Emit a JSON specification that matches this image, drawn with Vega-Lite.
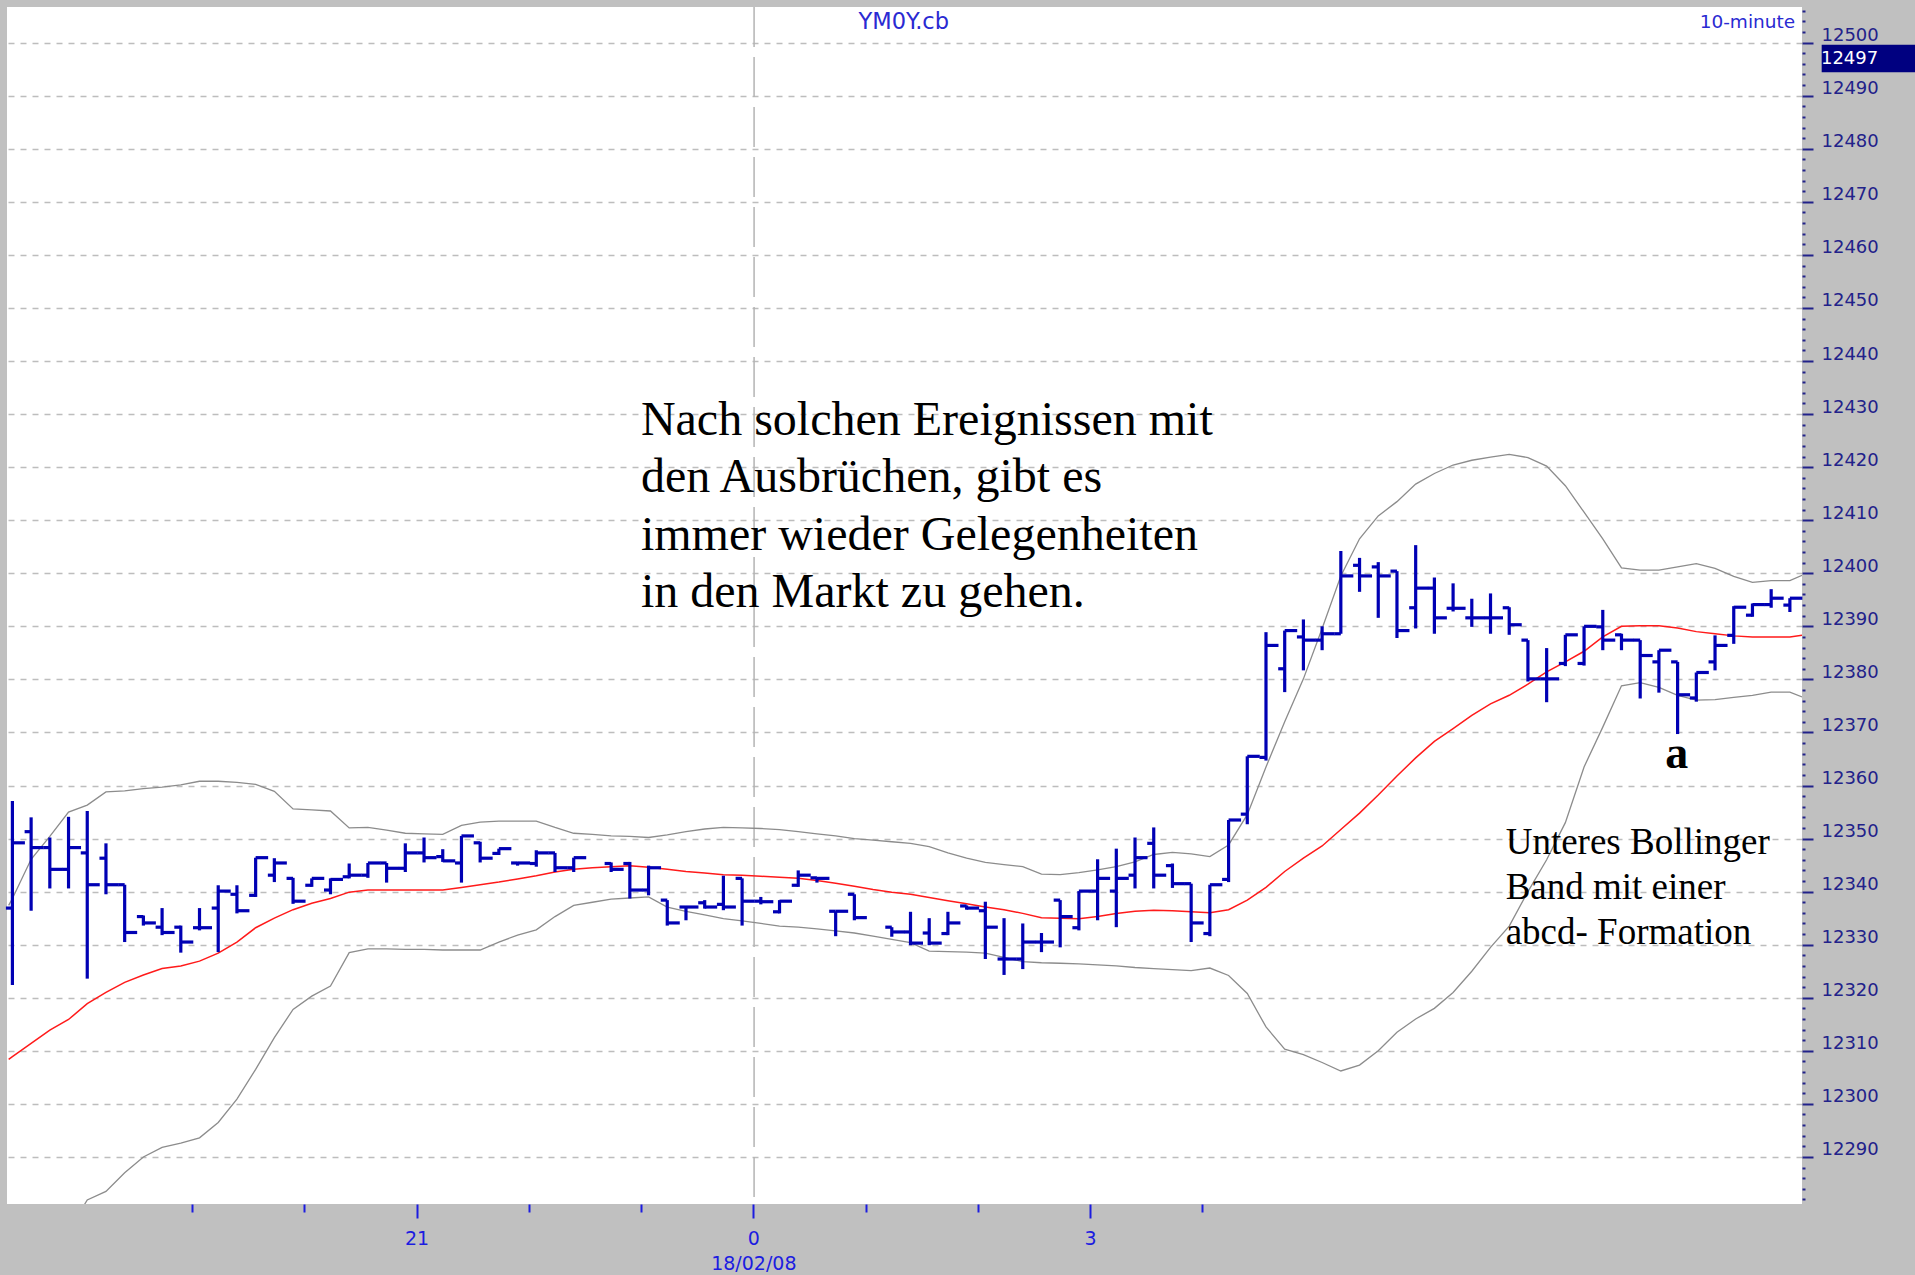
{
  "$schema": "https://vega.github.io/schema/vega-lite/v6.json",
  "width": 1795,
  "height": 1197,
  "autosize": {"type": "none"},
  "padding": {"left": 7, "top": 7, "right": 113, "bottom": 71},
  "background": "#c0c0c0",
  "config": {"view": {"fill": "white", "stroke": null}},
  "resolve": {"axis": {"x": "independent", "y": "independent"}},
  "datasets": {
    "bars": [
      {"i":1,"o":12336.9,"h":12357.1,"l":12322.4,"c":12349.2},
      {"i":2,"o":12351.3,"h":12354.0,"l":12336.4,"c":12348.3},
      {"i":3,"o":12348.3,"h":12350.2,"l":12340.6,"c":12344.2},
      {"i":4,"o":12344.2,"h":12354.1,"l":12340.6,"c":12348.3},
      {"i":5,"o":12347.3,"h":12355.2,"l":12323.6,"c":12341.3},
      {"i":6,"o":12346.3,"h":12349.1,"l":12339.5,"c":12341.3},
      {"i":7,"o":12341.3,"h":12341.3,"l":12330.5,"c":12332.3},
      {"i":8,"o":12335.3,"h":12335.5,"l":12333.6,"c":12334.1},
      {"i":9,"o":12333.3,"h":12336.9,"l":12331.8,"c":12332.3},
      {"i":10,"o":12333.3,"h":12333.6,"l":12328.5,"c":12330.5},
      {"i":11,"o":12333.2,"h":12336.9,"l":12332.7,"c":12333.2},
      {"i":12,"o":12336.9,"h":12341.2,"l":12328.6,"c":12340.1},
      {"i":13,"o":12339.5,"h":12341.2,"l":12335.9,"c":12336.4},
      {"i":14,"o":12339.3,"h":12346.4,"l":12339.0,"c":12346.4},
      {"i":15,"o":12343.1,"h":12346.3,"l":12341.8,"c":12345.4},
      {"i":16,"o":12342.5,"h":12342.6,"l":12337.7,"c":12338.2},
      {"i":17,"o":12341.2,"h":12342.5,"l":12340.9,"c":12342.5},
      {"i":18,"o":12340.3,"h":12342.5,"l":12339.5,"c":12342.3},
      {"i":19,"o":12342.8,"h":12345.3,"l":12342.5,"c":12343.1},
      {"i":20,"o":12343.1,"h":12345.4,"l":12342.6,"c":12345.4},
      {"i":21,"o":12345.4,"h":12345.4,"l":12341.7,"c":12344.4},
      {"i":22,"o":12344.4,"h":12349.1,"l":12343.7,"c":12347.3},
      {"i":23,"o":12347.3,"h":12350.2,"l":12345.5,"c":12346.4},
      {"i":24,"o":12346.6,"h":12348.0,"l":12345.6,"c":12345.8},
      {"i":25,"o":12345.4,"h":12350.5,"l":12341.7,"c":12350.5},
      {"i":26,"o":12349.2,"h":12349.4,"l":12345.5,"c":12346.3},
      {"i":27,"o":12347.2,"h":12348.1,"l":12346.9,"c":12348.1},
      {"i":28,"o":12345.4,"h":12345.6,"l":12344.9,"c":12345.4},
      {"i":29,"o":12345.3,"h":12347.8,"l":12344.7,"c":12347.3},
      {"i":30,"o":12347.3,"h":12347.3,"l":12343.7,"c":12344.5},
      {"i":31,"o":12344.5,"h":12346.4,"l":12343.7,"c":12346.4},
      {"i":33,"o":12345.3,"h":12345.5,"l":12343.7,"c":12344.2},
      {"i":34,"o":12345.3,"h":12345.6,"l":12338.7,"c":12340.3},
      {"i":35,"o":12340.3,"h":12344.9,"l":12339.3,"c":12344.5},
      {"i":36,"o":12338.4,"h":12338.4,"l":12333.6,"c":12334.1},
      {"i":37,"o":12337.1,"h":12337.1,"l":12334.6,"c":12337.1},
      {"i":38,"o":12337.9,"h":12338.4,"l":12336.8,"c":12337.1},
      {"i":39,"o":12337.6,"h":12343.0,"l":12336.5,"c":12337.1},
      {"i":40,"o":12342.5,"h":12342.5,"l":12333.6,"c":12338.2},
      {"i":41,"o":12338.2,"h":12339.0,"l":12337.6,"c":12338.1},
      {"i":42,"o":12336.2,"h":12338.4,"l":12335.9,"c":12338.2},
      {"i":43,"o":12341.2,"h":12344.0,"l":12340.9,"c":12343.1},
      {"i":44,"o":12342.6,"h":12342.6,"l":12341.7,"c":12342.5},
      {"i":45,"o":12336.3,"h":12336.3,"l":12331.6,"c":12336.3},
      {"i":46,"o":12339.5,"h":12339.5,"l":12334.6,"c":12335.1},
      {"i":48,"o":12333.3,"h":12333.3,"l":12331.5,"c":12332.4},
      {"i":49,"o":12332.4,"h":12336.2,"l":12329.9,"c":12330.3},
      {"i":50,"o":12332.2,"h":12335.0,"l":12329.9,"c":12330.3},
      {"i":51,"o":12332.1,"h":12336.2,"l":12331.8,"c":12334.1},
      {"i":52,"o":12337.3,"h":12337.4,"l":12336.6,"c":12336.9},
      {"i":53,"o":12336.4,"h":12338.1,"l":12327.3,"c":12333.3},
      {"i":54,"o":12327.3,"h":12335.0,"l":12324.3,"c":12327.3},
      {"i":55,"o":12327.3,"h":12334.0,"l":12325.4,"c":12330.5},
      {"i":56,"o":12330.5,"h":12332.2,"l":12328.6,"c":12330.5},
      {"i":57,"o":12338.4,"h":12338.4,"l":12329.5,"c":12335.3},
      {"i":58,"o":12333.2,"h":12340.1,"l":12332.7,"c":12340.1},
      {"i":59,"o":12340.1,"h":12346.1,"l":12334.6,"c":12342.5},
      {"i":60,"o":12340.1,"h":12348.1,"l":12333.3,"c":12342.5},
      {"i":61,"o":12343.1,"h":12350.2,"l":12340.6,"c":12346.4},
      {"i":62,"o":12349.1,"h":12352.1,"l":12340.6,"c":12343.1},
      {"i":63,"o":12344.9,"h":12345.3,"l":12340.7,"c":12341.5},
      {"i":64,"o":12341.5,"h":12341.5,"l":12330.5,"c":12334.1},
      {"i":65,"o":12332.1,"h":12341.3,"l":12331.6,"c":12341.3},
      {"i":66,"o":12342.3,"h":12353.5,"l":12341.8,"c":12353.5},
      {"i":67,"o":12354.6,"h":12365.5,"l":12352.7,"c":12365.5},
      {"i":68,"o":12365.3,"h":12388.9,"l":12364.7,"c":12386.4},
      {"i":69,"o":12382.0,"h":12389.2,"l":12377.6,"c":12389.2},
      {"i":70,"o":12388.0,"h":12391.3,"l":12381.7,"c":12387.4},
      {"i":71,"o":12387.4,"h":12390.0,"l":12385.5,"c":12388.6},
      {"i":72,"o":12388.6,"h":12404.2,"l":12388.6,"c":12399.5},
      {"i":73,"o":12401.5,"h":12402.9,"l":12396.5,"c":12399.5},
      {"i":74,"o":12401.2,"h":12402.1,"l":12391.6,"c":12399.5},
      {"i":75,"o":12400.4,"h":12400.4,"l":12387.8,"c":12389.2},
      {"i":76,"o":12393.5,"h":12405.3,"l":12389.6,"c":12397.2},
      {"i":77,"o":12397.2,"h":12399.2,"l":12388.6,"c":12391.6},
      {"i":78,"o":12393.4,"h":12398.1,"l":12392.8,"c":12393.4},
      {"i":79,"o":12391.6,"h":12395.2,"l":12389.9,"c":12391.6},
      {"i":80,"o":12391.6,"h":12396.2,"l":12388.6,"c":12391.6},
      {"i":81,"o":12393.5,"h":12393.6,"l":12388.4,"c":12390.3},
      {"i":82,"o":12387.4,"h":12387.4,"l":12379.6,"c":12380.1},
      {"i":83,"o":12380.1,"h":12385.9,"l":12375.7,"c":12380.1},
      {"i":84,"o":12383.0,"h":12388.4,"l":12382.5,"c":12388.4},
      {"i":85,"o":12383.0,"h":12390.0,"l":12382.6,"c":12390.0},
      {"i":86,"o":12389.9,"h":12393.1,"l":12385.5,"c":12387.4},
      {"i":87,"o":12388.4,"h":12388.6,"l":12385.5,"c":12387.4},
      {"i":88,"o":12387.4,"h":12387.4,"l":12376.4,"c":12384.5},
      {"i":89,"o":12383.3,"h":12385.5,"l":12377.5,"c":12385.5},
      {"i":90,"o":12383.3,"h":12383.3,"l":12369.7,"c":12377.1},
      {"i":91,"o":12376.5,"h":12381.3,"l":12375.8,"c":12381.3},
      {"i":92,"o":12383.3,"h":12388.3,"l":12381.7,"c":12386.4},
      {"i":93,"o":12388.3,"h":12393.8,"l":12386.7,"c":12393.6},
      {"i":94,"o":12392.1,"h":12394.3,"l":12391.8,"c":12394.1},
      {"i":95,"o":12394.1,"h":12397.0,"l":12393.5,"c":12395.3},
      {"i":96,"o":12394.0,"h":12395.3,"l":12392.7,"c":12395.3}
    ],
    "bands": [
      {"i":0.8,"up":12337.4,"mid":12308.4,"lo":12255},
      {"i":1,"up":12338.7,"mid":12308.9,"lo":12258},
      {"i":2,"up":12346.1,"mid":12311.4,"lo":12264},
      {"i":3,"up":12350.4,"mid":12313.9,"lo":12270},
      {"i":4,"up":12355.0,"mid":12315.9,"lo":12276},
      {"i":5,"up":12356.3,"mid":12318.9,"lo":12281.9},
      {"i":6,"up":12358.8,"mid":12321.0,"lo":12283.5},
      {"i":7,"up":12359.0,"mid":12322.9,"lo":12287.0},
      {"i":8,"up":12359.4,"mid":12324.3,"lo":12290.0},
      {"i":9,"up":12359.7,"mid":12325.5,"lo":12291.8},
      {"i":10,"up":12360.1,"mid":12326.0,"lo":12292.6},
      {"i":11,"up":12360.8,"mid":12326.9,"lo":12293.6},
      {"i":12,"up":12360.8,"mid":12328.4,"lo":12296.5},
      {"i":13,"up":12360.6,"mid":12330.5,"lo":12300.9},
      {"i":14,"up":12360.2,"mid":12333.2,"lo":12306.5},
      {"i":15,"up":12358.9,"mid":12335.0,"lo":12312.5},
      {"i":16,"up":12355.6,"mid":12336.6,"lo":12317.8},
      {"i":17,"up":12355.4,"mid":12337.8,"lo":12320.3},
      {"i":18,"up":12355.2,"mid":12338.7,"lo":12322.2},
      {"i":19,"up":12352.0,"mid":12339.9,"lo":12328.5},
      {"i":20,"up":12352.1,"mid":12340.3,"lo":12329.2},
      {"i":21,"up":12351.6,"mid":12340.3,"lo":12329.2},
      {"i":22,"up":12351.0,"mid":12340.3,"lo":12329.1},
      {"i":23,"up":12350.9,"mid":12340.3,"lo":12329.1},
      {"i":24,"up":12350.8,"mid":12340.3,"lo":12329.0},
      {"i":25,"up":12352.5,"mid":12340.8,"lo":12329.0},
      {"i":26,"up":12353.1,"mid":12341.3,"lo":12329.0},
      {"i":27,"up":12353.3,"mid":12341.8,"lo":12330.5},
      {"i":28,"up":12353.3,"mid":12342.4,"lo":12331.8},
      {"i":29,"up":12353.3,"mid":12343.0,"lo":12332.8},
      {"i":30,"up":12352.1,"mid":12343.7,"lo":12335.3},
      {"i":31,"up":12351.0,"mid":12344.2,"lo":12337.4},
      {"i":32,"up":12350.8,"mid":12344.5,"lo":12338.0},
      {"i":33,"up":12350.5,"mid":12344.7,"lo":12338.6},
      {"i":34,"up":12350.4,"mid":12344.9,"lo":12338.8},
      {"i":35,"up":12350.2,"mid":12344.6,"lo":12339.0},
      {"i":36,"up":12350.7,"mid":12344.2,"lo":12337.1},
      {"i":37,"up":12351.3,"mid":12343.8,"lo":12336.3},
      {"i":38,"up":12351.8,"mid":12343.5,"lo":12335.6},
      {"i":39,"up":12352.1,"mid":12343.2,"lo":12334.9},
      {"i":40,"up":12352.0,"mid":12343.1,"lo":12334.5},
      {"i":41,"up":12351.9,"mid":12342.9,"lo":12334.0},
      {"i":42,"up":12351.7,"mid":12342.7,"lo":12333.5},
      {"i":43,"up":12351.3,"mid":12342.5,"lo":12333.3},
      {"i":44,"up":12350.9,"mid":12342.1,"lo":12333.0},
      {"i":45,"up":12350.5,"mid":12341.6,"lo":12332.6},
      {"i":46,"up":12350.0,"mid":12341.0,"lo":12332.2},
      {"i":47,"up":12349.7,"mid":12340.4,"lo":12331.6},
      {"i":48,"up":12349.4,"mid":12339.9,"lo":12331.0},
      {"i":49,"up":12349.1,"mid":12339.5,"lo":12330.4},
      {"i":50,"up":12348.5,"mid":12338.9,"lo":12328.8},
      {"i":51,"up":12347.3,"mid":12338.3,"lo":12328.7},
      {"i":52,"up":12346.3,"mid":12337.7,"lo":12328.6},
      {"i":53,"up":12345.5,"mid":12337.1,"lo":12328.4},
      {"i":54,"up":12345.1,"mid":12336.6,"lo":12327.6},
      {"i":55,"up":12344.7,"mid":12335.9,"lo":12326.8},
      {"i":56,"up":12343.3,"mid":12335.1,"lo":12326.6},
      {"i":57,"up":12343.2,"mid":12335.0,"lo":12326.5},
      {"i":58,"up":12343.6,"mid":12334.9,"lo":12326.4},
      {"i":59,"up":12344.1,"mid":12335.3,"lo":12326.2},
      {"i":60,"up":12344.7,"mid":12335.9,"lo":12326.0},
      {"i":61,"up":12345.6,"mid":12336.3,"lo":12325.7},
      {"i":62,"up":12347.0,"mid":12336.5,"lo":12325.5},
      {"i":63,"up":12347.4,"mid":12336.4,"lo":12325.3},
      {"i":64,"up":12347.1,"mid":12336.2,"lo":12325.1},
      {"i":65,"up":12346.6,"mid":12336.0,"lo":12325.6},
      {"i":66,"up":12348.8,"mid":12336.6,"lo":12324.2},
      {"i":67,"up":12354.5,"mid":12338.4,"lo":12320.8},
      {"i":68,"up":12363.5,"mid":12340.8,"lo":12314.5},
      {"i":69,"up":12372.0,"mid":12343.8,"lo":12310.3},
      {"i":70,"up":12380.1,"mid":12346.3,"lo":12309.3},
      {"i":71,"up":12389.6,"mid":12348.6,"lo":12307.8},
      {"i":72,"up":12399.5,"mid":12351.7,"lo":12306.2},
      {"i":73,"up":12406.5,"mid":12354.8,"lo":12307.3},
      {"i":74,"up":12410.8,"mid":12358.2,"lo":12310.0},
      {"i":75,"up":12413.5,"mid":12361.8,"lo":12313.5},
      {"i":76,"up":12416.8,"mid":12365.2,"lo":12316.0},
      {"i":77,"up":12418.8,"mid":12368.3,"lo":12318.0},
      {"i":78,"up":12420.4,"mid":12370.7,"lo":12321.0},
      {"i":79,"up":12421.3,"mid":12373.2,"lo":12325.0},
      {"i":80,"up":12421.9,"mid":12375.4,"lo":12329.5},
      {"i":81,"up":12422.4,"mid":12377.0,"lo":12333.5},
      {"i":82,"up":12421.8,"mid":12379.1,"lo":12340.0},
      {"i":83,"up":12420.2,"mid":12381.4,"lo":12346.0},
      {"i":84,"up":12416.5,"mid":12383.3,"lo":12353.0},
      {"i":85,"up":12411.5,"mid":12385.3,"lo":12363.5},
      {"i":86,"up":12406.5,"mid":12388.0,"lo":12371.0},
      {"i":87,"up":12401.0,"mid":12390.0,"lo":12378.8},
      {"i":88,"up":12400.6,"mid":12390.1,"lo":12379.4},
      {"i":89,"up":12400.6,"mid":12390.1,"lo":12378.5},
      {"i":90,"up":12401.2,"mid":12389.7,"lo":12377.0},
      {"i":91,"up":12401.8,"mid":12389.0,"lo":12376.1},
      {"i":92,"up":12400.9,"mid":12388.6,"lo":12376.2},
      {"i":93,"up":12399.4,"mid":12388.2,"lo":12376.6},
      {"i":94,"up":12398.3,"mid":12388.0,"lo":12377.0},
      {"i":95,"up":12398.6,"mid":12388.0,"lo":12377.6},
      {"i":96,"up":12398.6,"mid":12388.0,"lo":12377.6},
      {"i":96.65,"up":12399.6,"mid":12388.3,"lo":12376.7}
    ]
  },
  "layer": [
    {
      "data": {"values": [{}]},
      "mark": {"type": "rule", "color": "#b4b4b4", "strokeWidth": 1.5, "strokeDash": [40, 10]},
      "encoding": {
        "x": {"datum": 40.64, "type": "quantitative", "scale": {"domain": [0.711, 96.648], "nice": false, "zero": false}, "axis": null}
      }
    },
    {
      "data": {"name": "bands"},
      "mark": {"type": "line", "color": "#8c8c8c", "strokeWidth": 1.3, "clip": true},
      "encoding": {
        "x": {"field": "i", "type": "quantitative", "scale": {"domain": [0.711, 96.648], "nice": false, "zero": false},
          "axis": {"orient": "bottom", "title": null, "grid": false, "domain": false, "labels": false,
            "values": [10.6, 16.6, 28.6, 34.6, 46.6, 52.6, 64.6],
            "tickColor": "#1c1ce0", "tickWidth": 2, "tickSize": 8}},
        "y": {"field": "up", "type": "quantitative", "scale": {"domain": [12281.13, 12506.72], "nice": false, "zero": false},
          "axis": {"orient": "right", "title": null, "grid": false, "domain": false, "labels": false,
            "values": [12282,12284,12286,12288,12292,12294,12296,12298,12302,12304,12306,12308,12312,12314,12316,12318,12322,12324,12326,12328,12332,12334,12336,12338,12342,12344,12346,12348,12352,12354,12356,12358,12362,12364,12366,12368,12372,12374,12376,12378,12382,12384,12386,12388,12392,12394,12396,12398,12402,12404,12406,12408,12412,12414,12416,12418,12422,12424,12426,12428,12432,12434,12436,12438,12442,12444,12446,12448,12452,12454,12456,12458,12462,12464,12466,12468,12472,12474,12476,12478,12482,12484,12486,12488,12492,12494,12496,12498,12502,12504,12506],
            "tickColor": "#22228a", "tickWidth": 2, "tickSize": 3}}
      }
    },
    {
      "data": {"name": "bands"},
      "mark": {"type": "line", "color": "#8c8c8c", "strokeWidth": 1.3, "clip": true},
      "encoding": {
        "x": {"field": "i", "type": "quantitative", "scale": {"domain": [0.711, 96.648], "nice": false, "zero": false},
          "axis": {"orient": "bottom", "title": null, "grid": false, "domain": false, "ticks": false,
            "values": [40.6], "labelExpr": "'18/02/08'",
            "labelFont": "DejaVu Sans", "labelFontSize": 19, "labelColor": "#1c1ce0",
            "labelPadding": 50, "labelBaseline": "top", "labelOverlap": false, "labelFlush": false, "labelBound": false}},
        "y": {"field": "lo", "type": "quantitative", "scale": {"domain": [12281.13, 12506.72], "nice": false, "zero": false}, "axis": null}
      }
    },
    {
      "data": {"name": "bands"},
      "mark": {"type": "line", "color": "#ff1a1a", "strokeWidth": 1.5, "clip": true},
      "encoding": {
        "x": {"field": "i", "type": "quantitative", "scale": {"domain": [0.711, 96.648], "nice": false, "zero": false}, "axis": null},
        "y": {"field": "mid", "type": "quantitative", "scale": {"domain": [12281.13, 12506.72], "nice": false, "zero": false}, "axis": null}
      }
    },
    {
      "data": {"name": "bars"},
      "mark": {"type": "rule", "color": "#0000b4", "strokeWidth": 3.2},
      "encoding": {
        "x": {
          "field": "i", "type": "quantitative",
          "scale": {"domain": [0.711, 96.648], "nice": false, "zero": false},
          "axis": {
            "orient": "bottom", "title": null, "grid": false, "domain": false,
            "values": [22.6, 40.6, 58.6],
            "tickColor": "#1c1ce0", "tickWidth": 2, "tickSize": 14,
            "labelExpr": "datum.value < 30 ? '21' : (datum.value < 50 ? '0' : '3')",
            "labelFont": "DejaVu Sans", "labelFontSize": 19, "labelColor": "#1c1ce0",
            "labelPadding": 11, "labelBaseline": "top",
            "labelOverlap": false, "labelFlush": false, "labelBound": false
          }
        },
        "y": {
          "field": "l", "type": "quantitative",
          "scale": {"domain": [12281.13, 12506.72], "nice": false, "zero": false},
          "axis": {
            "orient": "right", "title": null, "domain": false, "format": "d",
            "values": [12290,12300,12310,12320,12330,12340,12350,12360,12370,12380,12390,12400,12410,12420,12430,12440,12450,12460,12470,12480,12490,12500],
            "grid": true, "gridColor": "#bdbdbd", "gridWidth": 1.5, "gridDash": [6, 6],
            "tickColor": "#22228a", "tickWidth": 2, "tickSize": 11,
            "labelFont": "DejaVu Sans", "labelFontSize": 18, "labelColor": "#22228a",
            "labelPadding": 8, "labelBaseline": "alphabetic", "labelOffset": -2,
            "labelOverlap": false, "labelFlush": false, "labelBound": false
          }
        },
        "y2": {"field": "h"}
      }
    },
    {
      "data": {"name": "bars"},
      "mark": {"type": "rule", "color": "#0000b4", "strokeWidth": 3.2, "xOffset": -6.5, "x2Offset": 0},
      "encoding": {
        "x": {"field": "i", "type": "quantitative", "scale": {"domain": [0.711, 96.648], "nice": false, "zero": false}, "axis": null},
        "x2": {"field": "i"},
        "y": {"field": "o", "type": "quantitative", "scale": {"domain": [12281.13, 12506.72], "nice": false, "zero": false}, "axis": null}
      }
    },
    {
      "data": {"name": "bars"},
      "mark": {"type": "rule", "color": "#0000b4", "strokeWidth": 3.2, "xOffset": 0, "x2Offset": 12.5},
      "encoding": {
        "x": {"field": "i", "type": "quantitative", "scale": {"domain": [0.711, 96.648], "nice": false, "zero": false}, "axis": null},
        "x2": {"field": "i"},
        "y": {"field": "c", "type": "quantitative", "scale": {"domain": [12281.13, 12506.72], "nice": false, "zero": false}, "axis": null}
      }
    },
    {
      "data": {"values": [{}]},
      "mark": {"type": "text", "text": "YM0Y.cb", "font": "DejaVu Sans", "fontSize": 22.5, "color": "#2a2ad2", "align": "center", "baseline": "alphabetic"},
      "encoding": {
        "x": {"datum": 48.64, "type": "quantitative", "scale": {"domain": [0.711, 96.648], "nice": false, "zero": false}, "axis": null},
        "y": {"datum": 12502.5, "type": "quantitative", "scale": {"domain": [12281.13, 12506.72], "nice": false, "zero": false}, "axis": null}
      }
    },
    {
      "data": {"values": [{}]},
      "mark": {"type": "text", "text": "10-minute", "font": "DejaVu Sans", "fontSize": 18.5, "color": "#2a2ad2", "align": "right", "baseline": "alphabetic"},
      "encoding": {
        "x": {"datum": 96.28, "type": "quantitative", "scale": {"domain": [0.711, 96.648], "nice": false, "zero": false}, "axis": null},
        "y": {"datum": 12502.7, "type": "quantitative", "scale": {"domain": [12281.13, 12506.72], "nice": false, "zero": false}, "axis": null}
      }
    },
    {
      "data": {"values": [{}]},
      "mark": {"type": "text", "text": ["Nach solchen Ereignissen mit", "den Ausbrüchen, gibt es", "immer wieder Gelegenheiten", "in den Markt zu gehen."], "font": "Liberation Serif", "fontSize": 48, "lineHeight": 57.4, "color": "#000000", "align": "left", "baseline": "alphabetic"},
      "encoding": {
        "x": {"datum": 34.59, "type": "quantitative", "scale": {"domain": [0.711, 96.648], "nice": false, "zero": false}, "axis": null},
        "y": {"datum": 12426.1, "type": "quantitative", "scale": {"domain": [12281.13, 12506.72], "nice": false, "zero": false}, "axis": null}
      }
    },
    {
      "data": {"values": [{}]},
      "mark": {"type": "text", "text": ["Unteres Bollinger", "Band mit einer", "abcd- Formation"], "font": "Liberation Serif", "fontSize": 37, "lineHeight": 44.6, "color": "#000000", "align": "left", "baseline": "alphabetic"},
      "encoding": {
        "x": {"datum": 80.81, "type": "quantitative", "scale": {"domain": [0.711, 96.648], "nice": false, "zero": false}, "axis": null},
        "y": {"datum": 12347.0, "type": "quantitative", "scale": {"domain": [12281.13, 12506.72], "nice": false, "zero": false}, "axis": null}
      }
    },
    {
      "data": {"values": [{}]},
      "mark": {"type": "text", "text": "a", "font": "Liberation Serif", "fontSize": 46, "fontWeight": "bold", "color": "#000000", "align": "center", "baseline": "alphabetic"},
      "encoding": {
        "x": {"datum": 89.95, "type": "quantitative", "scale": {"domain": [0.711, 96.648], "nice": false, "zero": false}, "axis": null},
        "y": {"datum": 12363.25, "type": "quantitative", "scale": {"domain": [12281.13, 12506.72], "nice": false, "zero": false}, "axis": null}
      }
    },
    {
      "data": {"values": [{}]},
      "mark": {"type": "rect", "color": "#000080"},
      "encoding": {
        "x": {"datum": 97.7, "type": "quantitative", "scale": {"domain": [0.711, 96.648], "nice": false, "zero": false}, "axis": null},
        "x2": {"datum": 102.69},
        "y": {"datum": 12499.6, "type": "quantitative", "scale": {"domain": [12281.13, 12506.72], "nice": false, "zero": false}, "axis": null},
        "y2": {"datum": 12494.4}
      }
    },
    {
      "data": {"values": [{}]},
      "mark": {"type": "text", "text": "12497", "font": "DejaVu Sans", "fontSize": 18, "color": "#ffffff", "align": "left", "baseline": "middle"},
      "encoding": {
        "x": {"datum": 97.66, "type": "quantitative", "scale": {"domain": [0.711, 96.648], "nice": false, "zero": false}, "axis": null},
        "y": {"datum": 12497, "type": "quantitative", "scale": {"domain": [12281.13, 12506.72], "nice": false, "zero": false}, "axis": null}
      }
    }
  ]
}
